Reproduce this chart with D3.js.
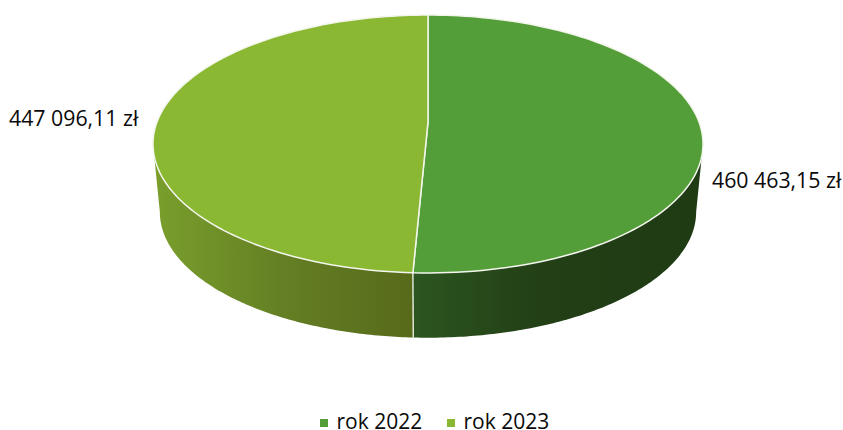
<!DOCTYPE html>
<html><head><meta charset="utf-8">
<style>html,body{margin:0;padding:0;background:#fff}svg{display:block}text{font-family:"Open Sans",sans-serif;fill:#0a0a0a}</style>
<script src="https://cdnjs.cloudflare.com/ajax/libs/d3/7.8.5/d3.min.js"></script>
</head><body><svg id="c" width="843" height="430"></svg>
<script>
const categories = ["rok 2022", "rok 2023"];
const values = [460463.15, 447096.11];
const valueLabels = ["460 463,15 zł", "447 096,11 zł"];
const topColors = ["#549e39", "#8ab833"];
const sideStops = [["#2c5520", "#223f16", "#1f3b14"], ["#7a9f2c", "#647f24", "#576a1a"]];

const W = 843, H = 430, cx = 428, apexY = 122;
const k = 0.1705, B = 125.2, A = 271;
const widestTheta = Math.PI / 2 + Math.asin(k);
const svg = d3.select("#c");
const defs = svg.append("defs");

const pie = d3.pie().sort(null).value(d => d)(values);
// project an angle on the disc (0 = far side, clockwise) to the tilted top face
const proj = (th, r = 1) => {
  const u = r * Math.sin(th), v = -r * Math.cos(th), d = 1 - k * v;
  return [cx + A * u / d, apexY + B * v / d];
};
const botScale = 0.975, botCy = 212, topCy = 144;
const projBot = th => {
  const p = proj(th);
  return [cx + (p[0] - cx) * botScale, botCy + (p[1] - topCy) * botScale];
};
const samples = (a, b) => d3.range(0, 121).map(i => a + (b - a) * i / 120);
const line = d3.line();

// side walls
const front0 = widestTheta, front1 = 2 * Math.PI - widestTheta;
pie.forEach((s, i) => {
  const a = Math.max(s.startAngle, front0), b = Math.min(s.endAngle, front1);
  const grad = defs.append("linearGradient").attr("id", "side" + i)
    .attr("gradientUnits", "userSpaceOnUse")
    .attr("x1", proj(b)[0]).attr("x2", proj(a)[0]).attr("y1", 0).attr("y2", 0);
  const offs = i === 0 ? [0, 0.45, 1] : [0, 0.5, 1];
  sideStops[i].forEach((c, j) => grad.append("stop").attr("offset", offs[j]).attr("stop-color", c));
  const ts = samples(a, b);
  const pts = ts.map(t => proj(t)).concat(ts.slice().reverse().map(t => projBot(t)));
  svg.append("path").attr("d", line(pts) + "Z").attr("fill", `url(#side${i})`);
});
// vertical edge between side walls
const seam = pie[0].endAngle;
svg.append("line").attr("x1", proj(seam)[0]).attr("y1", proj(seam)[1])
  .attr("x2", projBot(seam)[0]).attr("y2", projBot(seam)[1])
  .attr("stroke", "#e8ebe2").attr("stroke-width", 1.4);

// top face
pie.forEach((s, i) => {
  const pts = [[cx, apexY]].concat(samples(s.startAngle, s.endAngle).map(t => proj(t)));
  svg.append("path").attr("d", line(pts) + "Z").attr("fill", topColors[i])
    .attr("stroke", "#f4f6ee").attr("stroke-width", 1.5).attr("stroke-linejoin", "round");
});

// value labels
const labelPos = [[712, 188], [9, 126]];
valueLabels.forEach((t, i) => svg.append("text").attr("x", labelPos[i][0]).attr("y", labelPos[i][1])
  .attr("font-size", 21.3).text(t));

// legend
const legendX = d3.scaleOrdinal().domain(categories).range([320, 447]);
categories.forEach((c, i) => {
  svg.append("rect").attr("x", legendX(c)).attr("y", 419).attr("width", 8).attr("height", 8).attr("fill", topColors[i]);
  svg.append("text").attr("x", legendX(c) + 16.5).attr("y", 429).attr("font-size", 21).text(c);
});
</script></body></html>
